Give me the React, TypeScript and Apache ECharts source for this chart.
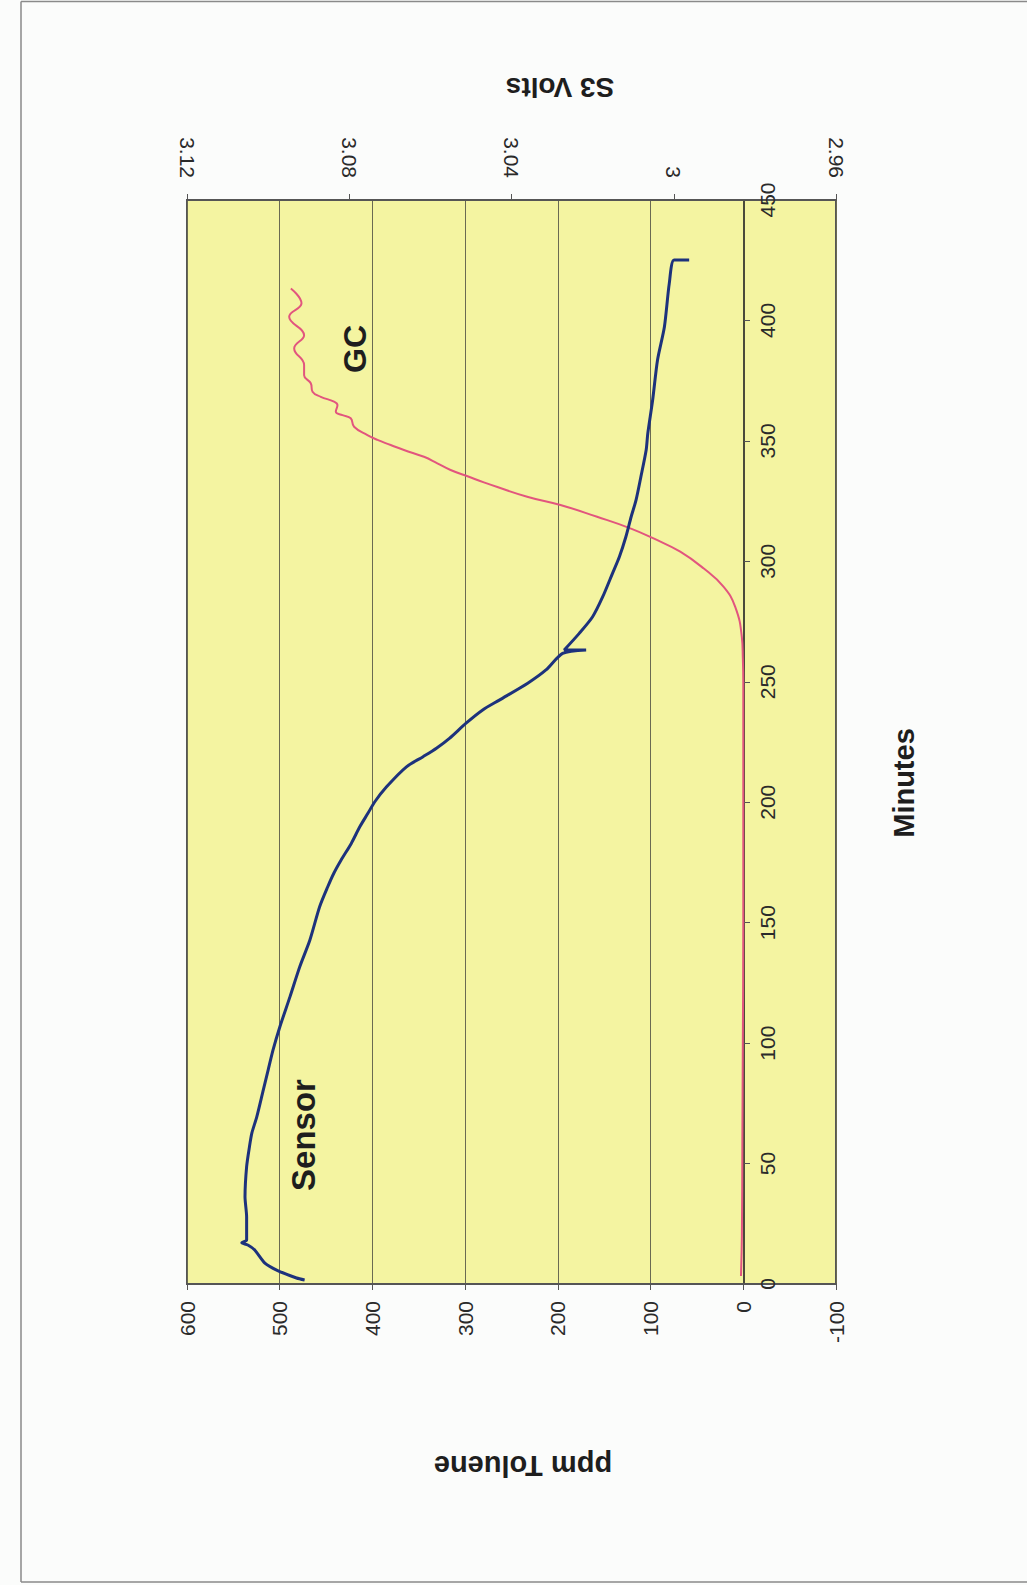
import { useEffect, useRef } from "react";
import * as echarts from "echarts";

// Sensor output (S3 volts) against elapsed minutes
const sensorMinutes = [
  1.7, 2.5, 5.8, 8.7, 14.1, 16.2, 17.1, 18.3, 27.9, 36.2, 48.7, 57.0, 62.7, 69.4,
  80.5, 88.8, 97.1, 106.8, 119.3, 131.7, 142.8, 156.6, 164.9, 170.5, 176.0, 182.9,
  189.8, 195.4, 200.2, 206.4, 214.7, 218.9, 222.4, 226.5, 232.8, 238.3, 242.4, 249.4,
  254.9, 261.8, 263.2, 263.2, 270.1, 277.0, 285.3, 295.0, 301.9, 310.2, 318.5, 325.4,
  335.1, 346.2, 353.1, 367.0, 383.6, 397.4, 415.4, 425.1, 425.1,
];
const sensorVolts = [
  3.091, 3.093, 3.0979, 3.1008, 3.1033, 3.105, 3.1065, 3.1053, 3.1053, 3.1057, 3.1053,
  3.1046, 3.104, 3.1028, 3.1012, 3.1, 3.0988, 3.0971, 3.0946, 3.0922, 3.0897, 3.0873,
  3.0853, 3.0838, 3.082, 3.0795, 3.0774, 3.0754, 3.0737, 3.0708, 3.0659, 3.0618, 3.0585,
  3.0553, 3.0512, 3.0471, 3.043, 3.036, 3.0315, 3.0274, 3.0216, 3.027, 3.0233, 3.02,
  3.0175, 3.0151, 3.0134, 3.0118, 3.0105, 3.0093, 3.0081, 3.0068, 3.0064, 3.0052,
  3.004, 3.0023, 3.0011, 2.9999, 2.9962,
];

// GC reference measurement (ppm toluene) against elapsed minutes
const gcMinutes = [
  3.3, 20, 60, 100, 150, 200, 249.4, 260, 268.7, 281.2, 289.5, 297.1, 304.0, 309.5,
  313.7, 318.5, 323.4, 326.8, 332.8, 335.1, 337.9, 340.7, 343.4, 346.2, 348.3, 350.4,
  352.4, 355.9, 359.4, 360.7, 362.1, 364.9, 366.3, 368.3, 370.4, 373.9, 377.3, 381.5,
  388.4, 393.9, 401.5, 407.1, 413.3,
];
const gcPpm = [
  2.5, 1.5, 1, 0.5, 0, 0, 0, 0.5, 1.6, 8.8, 21.4, 42.9, 68.0, 96.8, 121.8, 157.7, 197.2,
  233.1, 279.8, 296.0, 315.7, 330.0, 344.4, 366.0, 380.3, 394.6, 405.4, 419.8, 423.4,
  432.3, 439.5, 437.7, 441.4, 455.7, 464.6, 466.5, 473.7, 473.7, 484.4, 473.7, 489.8,
  476.5, 488.0,
];

const FONT = '"Liberation Sans", Arial, sans-serif';

export default function App() {
  const ref = useRef<HTMLDivElement>(null);

  useEffect(() => {
    document.body.style.margin = "0";
    const chart = echarts.init(ref.current!, undefined, { renderer: "svg" });

    const sensorData = sensorMinutes.map((m, i) => [sensorVolts[i], m]);
    const gcData = gcMinutes.map((m, i) => [gcPpm[i], m]);

    const tickLabel = { rotate: 90, fontSize: 21, color: "#2a2a2a", fontFamily: FONT };
    const titleStyle = (text: string, size: number) => ({
      text,
      font: `bold ${size}px ${FONT}`,
      fill: "#1e1e1e",
      textAlign: "center",
      textVerticalAlign: "middle",
      align: "center",
      verticalAlign: "middle",
    });

    chart.setOption({
      animation: false,
      backgroundColor: "#fbfcfb",
      textStyle: { fontFamily: FONT },
      grid: {
        left: 187,
        right: 191,
        top: 200,
        bottom: 301,
        show: true,
        backgroundColor: "#f4f4a1",
        borderColor: "#555",
        borderWidth: 2,
      },
      xAxis: [
        {
          type: "value",
          min: -100,
          max: 600,
          interval: 100,
          inverse: true,
          position: "bottom",
          axisLine: { show: true, onZero: false, lineStyle: { color: "#555", width: 2 } },
          axisTick: { show: true, length: 6, lineStyle: { color: "#555" } },
          axisLabel: { ...tickLabel, margin: 17 },
          splitLine: { show: true, lineStyle: { color: "#6a6a52", width: 1 } },
        },
        {
          type: "value",
          min: 2.96,
          max: 3.12,
          interval: 0.04,
          inverse: true,
          position: "top",
          axisLine: { show: true, onZero: false, lineStyle: { color: "#555", width: 2 } },
          axisTick: { show: true, length: 6, lineStyle: { color: "#555" } },
          axisLabel: {
            ...tickLabel,
            margin: 22,
            formatter: (v: number) => String(Math.round(v * 100) / 100),
          },
          splitLine: { show: false },
        },
      ],
      yAxis: [
        {
          type: "value",
          min: 0,
          max: 450,
          interval: 50,
          position: "right",
          // the minutes axis crosses the ppm axis at 0
          offset: -92,
          axisLine: { show: true, onZero: false, lineStyle: { color: "#4a4a3a", width: 2 } },
          axisTick: { show: true, length: 6, lineStyle: { color: "#555" } },
          axisLabel: { ...tickLabel, margin: 13 },
          splitLine: { show: false },
        },
      ],
      series: [
        {
          name: "GC",
          type: "line",
          xAxisIndex: 0,
          yAxisIndex: 0,
          data: gcData,
          showSymbol: false,
          smooth: 0.45,
          lineStyle: { color: "#e2557e", width: 2 },
          z: 2,
        },
        {
          name: "Sensor",
          type: "line",
          xAxisIndex: 1,
          yAxisIndex: 0,
          data: sensorData,
          showSymbol: false,
          smooth: 0.25,
          lineStyle: { color: "#1d327c", width: 3 },
          z: 3,
        },
      ],
      graphic: [
        { type: "line", shape: { x1: 21, y1: 1.5, x2: 1027, y2: 1.5 }, style: { stroke: "#8a8a8a", lineWidth: 1.5 } },
        { type: "line", shape: { x1: 21, y1: 1.5, x2: 21, y2: 1582 }, style: { stroke: "#8a8a8a", lineWidth: 1.5 } },
        { type: "line", shape: { x1: 21, y1: 1582, x2: 1027, y2: 1582 }, style: { stroke: "#8a8a8a", lineWidth: 1.5 } },
        { type: "text", x: 560, y: 87, rotation: Math.PI, style: titleStyle("S3 Volts", 28) },
        { type: "text", x: 523, y: 1466, rotation: Math.PI, style: titleStyle("ppm Toluene", 29) },
        { type: "text", x: 904, y: 783, rotation: Math.PI / 2, style: titleStyle("Minutes", 29) },
        { type: "text", x: 303, y: 1135, rotation: Math.PI / 2, style: titleStyle("Sensor", 33) },
        { type: "text", x: 355, y: 349, rotation: Math.PI / 2, style: titleStyle("GC", 32) },
      ],
    });

    return () => chart.dispose();
  }, []);

  return <div ref={ref} style={{ width: 1027, height: 1585 }} />;
}
